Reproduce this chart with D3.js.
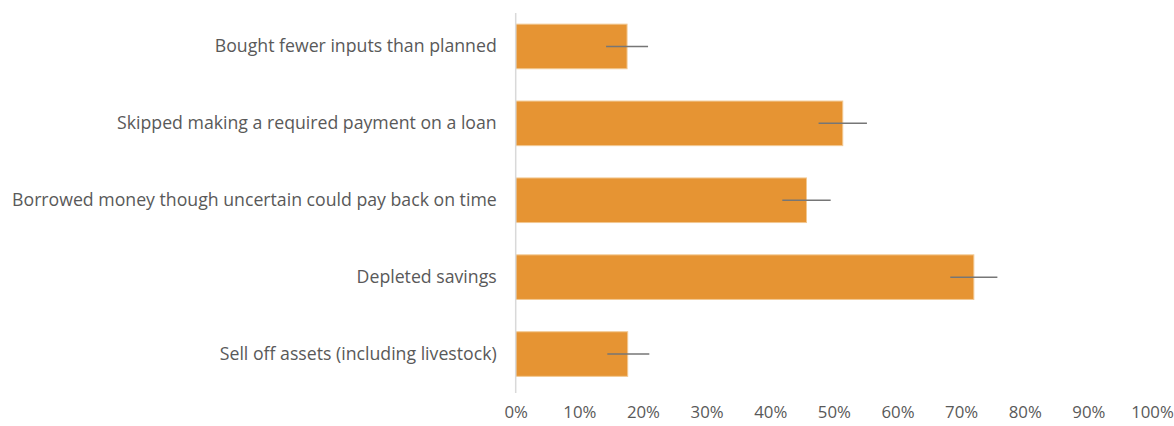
<!DOCTYPE html>
<html>
<head>
<meta charset="utf-8">
<script src="https://cdn.jsdelivr.net/npm/d3@7"></script>
<style>
  html, body { margin: 0; padding: 0; background: #fff; }
  svg text { font-family: "Open Sans", sans-serif; fill: #595959; }
</style>
</head>
<body>
<svg id="chart" width="1174" height="426"></svg>
<script>
// categories top to bottom
const categories = [
  "Bought fewer inputs than planned",
  "Skipped making a required payment on a loan",
  "Borrowed money though uncertain could pay back on time",
  "Depleted savings",
  "Sell off assets (including livestock)"
];
const shares = [0.175, 0.514, 0.457, 0.720, 0.176];
const errLow = [0.142, 0.476, 0.419, 0.683, 0.144];
const errHigh = [0.208, 0.552, 0.495, 0.757, 0.210];
const tickValues = [0, 0.1, 0.2, 0.3, 0.4, 0.5, 0.6, 0.7, 0.8, 0.9, 1.0];

const svg = d3.select("#chart");

const x = d3.scaleLinear().domain([0, 1]).range([515.7, 1152]);
const y = d3.scaleBand()
  .domain(categories)
  .range([8, 392.5])
  .paddingInner(0.42)
  .paddingOuter(0.21);

const rows = categories.map((c, i) => ({
  cat: c, v: shares[i], lo: errLow[i], hi: errHigh[i]
}));

// bars
svg.append("g").selectAll("rect")
  .data(rows)
  .join("rect")
  .attr("x", x(0))
  .attr("y", d => y(d.cat))
  .attr("width", d => x(d.v) - x(0))
  .attr("height", y.bandwidth())
  .attr("fill", "#e69433")
  .attr("stroke", "#f2c892")
  .attr("stroke-width", 1);

// vertical baseline
svg.append("line")
  .attr("x1", x(0)).attr("x2", x(0))
  .attr("y1", 13).attr("y2", 393)
  .attr("stroke", "#d9d9d9")
  .attr("stroke-width", 1.5);

// error bars
svg.append("g").selectAll("line")
  .data(rows)
  .join("line")
  .attr("x1", d => x(d.lo))
  .attr("x2", d => x(d.hi))
  .attr("y1", d => y(d.cat) + y.bandwidth() / 2)
  .attr("y2", d => y(d.cat) + y.bandwidth() / 2)
  .attr("stroke", "#767676")
  .attr("stroke-width", 1.5);

// y labels
const yAxis = svg.append("g")
  .attr("transform", `translate(${x(0)},0)`)
  .call(d3.axisLeft(y).tickSize(0).tickPadding(19));
yAxis.select(".domain").remove();
yAxis.selectAll("text")
  .style("font-size", "17.7px")
  .attr("fill", "#595959");

// x ticks
const xAxis = svg.append("g")
  .attr("transform", "translate(0,400)")
  .call(d3.axisBottom(x).tickValues(tickValues).tickFormat(d3.format(".0%")).tickSize(0).tickPadding(6));
xAxis.select(".domain").remove();
xAxis.selectAll("text")
  .style("font-size", "16.8px")
  .attr("fill", "#595959");
</script>
</body>
</html>
